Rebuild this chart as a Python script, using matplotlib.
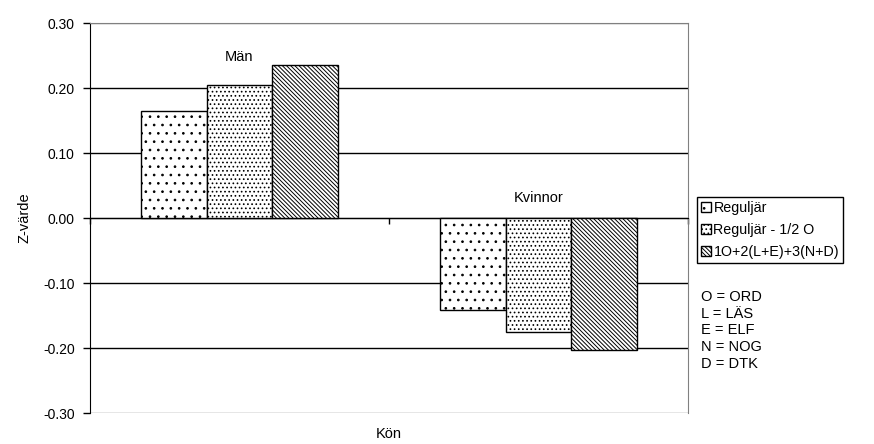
import numpy as np
import matplotlib.pyplot as plt

plt.rcParams['font.family'] = ['Liberation Sans', 'DejaVu Sans']
plt.rcParams['font.size'] = 10.5
plt.rcParams['axes.unicode_minus'] = False
plt.rcParams['hatch.linewidth'] = 0.7

# donnees
kategorier = ['Män', 'Kvinnor']
serier = ['Reguljär', 'Reguljär - 1/2 O', '1O+2(L+E)+3(N+D)']
regular = [0.165, -0.142]
regular_halv_o = [0.204, -0.176]
viktad = [0.235, -0.203]
forkortningar = ['O = ORD', 'L = LÄS', 'E = ELF', 'N = NOG', 'D = DTK']

varden = [regular, regular_halv_o, viktad]
monster = ['..', '....', '\\' * 8]

fig = plt.figure(figsize=(8.74, 4.44), dpi=100)
ax = fig.add_axes([90/874, 1-413/444, 598/874, 390/444])

x = np.arange(len(kategorier))
bredd = 0.22
staplar = []
for i, (v, h) in enumerate(zip(varden, monster)):
    b = ax.bar(x + (i-1)*bredd, v, bredd, facecolor='white', edgecolor='black',
               hatch=h, linewidth=1.0, zorder=3, label=serier[i])
    staplar.append(b)

# etiketter ovanfor grupperna
ax.text(0, 0.248, kategorier[0], ha='center', va='center')
ax.text(1, 0.031, kategorier[1], ha='center', va='center')

ax.set_xlim(-0.5, 1.5)
ax.set_ylim(-0.30, 0.30)
ax.set_yticks(np.arange(-0.30, 0.301, 0.10))
ax.set_yticklabels(['%.2f' % t for t in np.arange(-0.30, 0.301, 0.10)], fontsize=10)
ax.tick_params(axis='y', direction='out', length=5, width=1, pad=6)
ax.yaxis.grid(True, color='black', linewidth=1.0, zorder=0)
gl = ax.get_ygridlines()
gl[0].set_color('#808080')
gl[-1].set_color('#808080')

# kategoriaxeln vid noll
ax.spines['bottom'].set_position(('data', 0))
ax.spines['bottom'].set_color('black')
ax.set_xticks([-0.5, 0.5, 1.5])
ax.set_xticklabels([])
ax.tick_params(axis='x', direction='out', length=4, width=1)
ax.spines['top'].set_color('#808080')
ax.spines['right'].set_color('#808080')
ax.spines['left'].set_color('black')
ax.set_axisbelow(True)

ax.set_ylabel('Z-värde', labelpad=8)
fig.text(389/874, 1-434/444, 'Kön', ha='center', va='center')

leg = fig.legend(handles=staplar, labels=serier, loc='upper left',
                 bbox_to_anchor=(697/874, 1-197/444), frameon=True, fancybox=False,
                 edgecolor='black', framealpha=1, handlelength=0.65, handleheight=0.65,
                 handletextpad=0.2, borderpad=0.3, labelspacing=0.55, borderaxespad=0,
                 fontsize=10.3)
leg.get_frame().set_linewidth(1.0)

for i, t in enumerate(forkortningar):
    fig.text(701/874, 1-(297 + i*16.7)/444, t, ha='left', va='center')

fig.savefig('out.png', dpi=100)
